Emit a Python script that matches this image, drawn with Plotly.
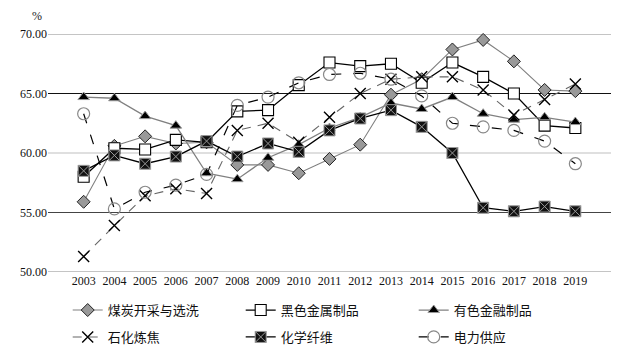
import plotly.graph_objects as go

years = [str(y) for y in range(2003, 2020)]

coal = [55.9, 60.6, 61.4, 60.8, 60.9, 59.0, 59.0, 58.3, 59.5, 60.7, 64.9, 66.2, 68.7, 69.5, 67.7, 65.3, 65.2]
ferrous = [58.0, 60.4, 60.3, 61.1, 60.9, 63.5, 63.6, 65.7, 67.6, 67.3, 67.5, 65.9, 67.6, 66.4, 65.0, 62.3, 62.1]
nonferrous = [64.7, 64.6, 63.1, 62.3, 58.3, 57.8, 59.6, 60.7, 62.1, 63.0, 64.2, 63.7, 64.7, 63.3, 62.8, 63.0, 62.6]
petro = [51.3, 53.9, 56.4, 57.0, 56.6, 61.9, 62.5, 60.9, 63.0, 65.0, 66.2, 66.4, 66.4, 65.3, 63.2, 64.5, 65.8]
fiber = [58.5, 59.8, 59.1, 59.7, 61.0, 59.7, 60.8, 60.1, 61.9, 62.9, 63.6, 62.2, 60.0, 55.4, 55.1, 55.5, 55.1]
power = [63.3, 55.3, 56.7, 57.3, 58.2, 64.0, 64.7, 65.9, 66.6, 66.7, 66.2, 64.8, 62.5, 62.2, 61.9, 61.0, 59.1]

names = ["煤炭开采与选洗", "黑色金属制品", "有色金融制品", "石化炼焦", "化学纤维", "电力供应"]
yticks = [50, 55, 60, 65, 70]
grid_colors = ["#8a8a8a", "#444444", "#c0c0c0", "#111111", "#8a8a8a"]

fig = go.Figure()

fig.add_trace(go.Scatter(x=years, y=coal, name=names[0], mode="lines+markers", legend="legend",
    line=dict(color="#808080", width=1.1),
    marker=dict(symbol="diamond", size=10, color="#999999", line=dict(color="#222222", width=1))))
fig.add_trace(go.Scatter(x=years, y=ferrous, name=names[1], mode="lines+markers", legend="legend",
    line=dict(color="#000000", width=1.3),
    marker=dict(symbol="square", size=11, color="white", line=dict(color="#000000", width=1.1))))
fig.add_trace(go.Scatter(x=years, y=nonferrous, name=names[2], mode="lines+markers", legend="legend",
    line=dict(color="#808080", width=1.3),
    marker=dict(symbol="triangle-up", size=10, color="#000000", line=dict(color="#999999", width=1))))
fig.add_trace(go.Scatter(x=years, y=petro, name=names[3], mode="lines+markers", legend="legend2",
    line=dict(color="#666666", width=1.1, dash="9px,7px"),
    marker=dict(symbol="x-thin-open", size=11, color="#000000", line=dict(color="#000000", width=1.4))))
fig.add_trace(go.Scatter(x=years, y=fiber, name=names[4], mode="lines+markers", legend="legend2",
    line=dict(color="#000000", width=1.3),
    marker=dict(symbol="square-x", size=11, color="#111111", line=dict(color="#999999", width=1))))
fig.add_trace(go.Scatter(x=years, y=power, name=names[5], mode="lines+markers", legend="legend2",
    line=dict(color="#000000", width=1.2, dash="10px,12px"),
    marker=dict(symbol="circle-open", size=12, color="#888888", line=dict(color="#888888", width=1.2))))

for v, c in zip(yticks, grid_colors):
    fig.add_shape(type="line", xref="paper", yref="y", x0=0, x1=1, y0=v, y1=v,
                  line=dict(color=c, width=1.2), layer="below")

fig.add_annotation(text="%", xref="paper", yref="paper", x=-0.02, y=1.075,
                   xanchor="center", yanchor="middle",
                   showarrow=False, font=dict(size=12, color="#222"))

font_family = "Liberation Serif, Noto Sans CJK SC, serif"
leg_common = dict(orientation="h", x=0.035, xanchor="left", yanchor="top",
                  entrywidth=128, entrywidthmode="pixels", tracegroupgap=0,
                  font=dict(size=13, family=font_family), bgcolor="rgba(0,0,0,0)")

fig.update_layout(
    width=633, height=354,
    margin=dict(l=48, r=22, t=34, b=82, autoexpand=False),
    paper_bgcolor="white", plot_bgcolor="white",
    font=dict(family=font_family, size=12, color="#111"),
    xaxis=dict(type="category", showgrid=False, showline=False, ticks="", zeroline=False,
               tickfont=dict(size=12)),
    yaxis=dict(range=[50, 70], tickvals=yticks, tickformat=".2f", showgrid=False,
               showline=False, zeroline=False, ticks="", tickfont=dict(size=12)),
    legend=dict(y=-0.097, **leg_common),
    legend2=dict(y=-0.21, **leg_common),
    showlegend=True,
)
fig.update_traces(cliponaxis=False)

fig.write_html("out.html")
